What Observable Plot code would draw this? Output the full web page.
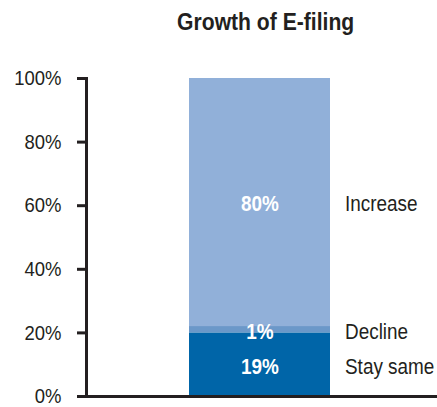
<!DOCTYPE html>
<html>
<head>
<meta charset="utf-8">
<script src="https://cdn.jsdelivr.net/npm/d3@7"></script>
<script src="https://cdn.jsdelivr.net/npm/@observablehq/plot@0.6"></script>
<style>
  body { margin: 0; background: white; }
  #title {
    width: 437px; height: 45px; box-sizing: border-box;
    padding-top: 9px; padding-left: 94px;
    font: bold 24px "Liberation Sans", Arial, sans-serif;
    line-height: 26px; text-align: center; color: #231f20;
  }
  #title span { display: inline-block; transform: scaleX(0.88); transform-origin: center; white-space: nowrap; }
</style>
</head>
<body>
<div id="title"><span>Growth of E-filing</span></div>
<div id="chart"></div>
<script>
const FONT = '"Liberation Sans", Arial, sans-serif';
const barName = "E-filing";
const categories = ["Stay same", "Decline", "Increase"];
const values = [20, 2, 78];
const valueLabels = ["19%", "1%", "80%"];
const colors = ["#0065a8", "#6b98c9", "#91b0d9"];
const yTicks = [0, 20, 40, 60, 80, 100];
const SQUEEZE = 0.88; // horizontal condensing of the type, to mimic a narrow face

const data = categories.map((c, i) => ({bar: barName, category: c, value: values[i], label: valueLabels[i]}));

const chart = Plot.plot({
  width: 437, height: 362,
  marginTop: 33, marginBottom: 11, marginLeft: 86, marginRight: 0,
  style: {fontFamily: FONT, background: "white", overflow: "visible"},
  x: {domain: [barName], range: [189, 330], padding: 0, axis: null},
  y: {domain: [0, 100]},
  color: {domain: categories, range: colors},
  marks: [
    Plot.barY(data, {x: "bar", y: "value", fill: "category"}),
    Plot.text(data, Plot.stackY({x: "bar", y: "value", text: "label", fill: "white", fontWeight: "bold", fontSize: 21.5, dy: 2})),
    Plot.text(data, Plot.stackY({x: "bar", y: "value", text: "category", textAnchor: "start", dx: 85, dy: 2, fill: "#231f20", fontSize: 21.5})),
    Plot.axisY(yTicks, {tickSize: 9, tickPadding: 16, tickFormat: d => d + "%", strokeWidth: 3, fontSize: 21, color: "#231f20", label: null}),
    Plot.frame({anchor: "left", stroke: "#231f20", strokeWidth: 3}),
    Plot.ruleY([0], {stroke: "#231f20", strokeWidth: 3})
  ]
});
document.getElementById("chart").appendChild(chart);

// condense every text horizontally around its own anchor point
d3.select(chart).selectAll("text").each(function() {
  const t = d3.select(this);
  const tr = t.attr("transform") || "";
  const x = +(t.attr("x") || 0), y = +(t.attr("y") || 0);
  const sc = (x || y)
    ? ` translate(${x},${y}) scale(${SQUEEZE},1) translate(${-x},${-y})`
    : ` scale(${SQUEEZE},1)`;
  t.attr("transform", tr + sc);
});
</script>
</body>
</html>
